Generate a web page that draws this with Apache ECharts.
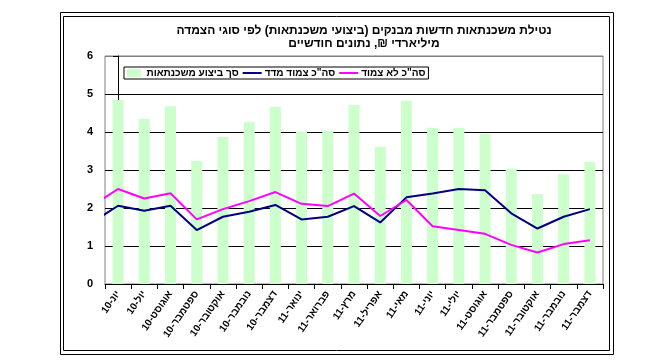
<!DOCTYPE html>
<html>
<head>
<meta charset="utf-8">
<script src="https://cdn.jsdelivr.net/npm/echarts@6/dist/echarts.min.js"></script>
<style>html,body{margin:0;padding:0;background:#fff}#c{width:663px;height:363px}</style>
</head>
<body>
<div id="c"></div>
<script>
var categories = ['יונ-10','יול-10','אוגוסט-10','ספטמבר-10','אוקטובר-10','נובמבר-10','דצמבר-10','ינואר-11','פברואר-11','מרץ-11','אפריל-11','מאי-11','יוני-11','יולי-11','אוגוסט-11','ספטמבר-11','אוקטובר-11','נובמבר-11','דצמבר-11'];
var totalMortgages = [4.84,4.34,4.68,3.24,3.87,4.26,4.66,4.01,4.03,4.71,3.61,4.82,4.11,4.11,3.95,3.03,2.37,2.89,3.21];
// linked to CPI; first value is the preceding month (May-10), only partly visible
var cpiLinkedPrev = 1.62;
var cpiLinked = [2.06,1.93,2.06,1.42,1.77,1.90,2.08,1.70,1.77,2.05,1.62,2.28,2.38,2.50,2.47,1.86,1.46,1.77,1.97];
var nonLinkedPrev = 2.06;
var nonLinked = [2.50,2.25,2.39,1.70,1.97,2.18,2.42,2.11,2.05,2.38,1.79,2.21,1.52,1.42,1.32,1.03,0.83,1.05,1.15];
var yTicks = [0,1,2,3,4,5,6];
var names = ['סך ביצוע משכנתאות','סה"כ צמוד מדד','סה"כ לא צמוד'];
var title1 = 'נטילת משכנתאות חדשות מבנקים (ביצועי משכנתאות) לפי סוגי הצמדה';
var title2 = 'מיליארדי ₪, נתונים חודשיים';

function toXY(prev, arr){
  var out = [[-1, prev]];
  arr.forEach(function(v,i){ out.push([i, v]); });
  return out;
}
var FONT = '"Liberation Sans", "DejaVu Sans", sans-serif';
var LINE_ICON = 'path://M0,0L19,0L19,2L0,2Z';
var chart = echarts.init(document.getElementById('c'), null, {renderer:'canvas'});
chart.setOption({
  animation:false,
  backgroundColor:'#fff',
  textStyle:{fontFamily:FONT},
  graphic:[
    {type:'rect', shape:{x:60.5,y:12.5,width:553,height:342}, style:{fill:null,stroke:'#000',lineWidth:1}, silent:true},
    {type:'rect', shape:{x:63.5,y:16.5,width:546,height:334}, style:{fill:null,stroke:'#000',lineWidth:1}, silent:true},
    {type:'text', x:364, y:31, style:{text:title1, textAlign:'center', textVerticalAlign:'middle', font:'bold 12px '+FONT, fill:'#000'}},
    {type:'text', x:364, y:44, style:{text:title2, textAlign:'center', textVerticalAlign:'middle', font:'bold 12px '+FONT, fill:'#000'}}
  ],
  legend:{
    left:124, top:67,
    data:[{name:names[0], icon:'path://M0,0L14,0L14,8L0,8Z'},{name:names[1], icon:LINE_ICON},{name:names[2], icon:LINE_ICON}],
    itemWidth:19, itemHeight:8, itemGap:4, symbolKeepAspect:true,
    padding:[1,3,1,3],
    borderColor:'#000', borderWidth:1,
    textStyle:{fontSize:10, fontWeight:'bold', color:'#000', fontFamily:FONT, padding:[0,0,0,-2]}
  },
  grid:{left:105, right:60, top:56, bottom:79, show:true, borderColor:'#808080', borderWidth:1},
  xAxis:[
    {type:'category', data:categories, boundaryGap:true,
     axisLine:{lineStyle:{color:'#000',width:1}},
     axisTick:{show:true, length:5, lineStyle:{color:'#000'}},
     axisLabel:{interval:0, rotate:55, margin:8, fontSize:10, fontWeight:'bold', color:'#000', fontFamily:FONT},
     splitLine:{show:false}},
    {type:'value', min:-0.5, max:18.5, show:false, splitLine:{show:false}}
  ],
  yAxis:{type:'value', min:yTicks[0], max:yTicks[yTicks.length-1], interval:1,
    axisLine:{show:true, lineStyle:{color:'#000'}},
    axisTick:{show:true, length:5, lineStyle:{color:'#000'}},
    axisLabel:{margin:12, fontSize:11, fontWeight:'bold', color:'#000', fontFamily:FONT},
    splitLine:{show:true, lineStyle:{color:['#000','#000','#000','#000','#000','#000','#808080'], width:1}}
  },
  series:[
    {name:names[0], type:'bar', data:totalMortgages, xAxisIndex:0, barWidth:11, itemStyle:{color:'#ccffcc'}},
    {name:names[1], type:'line', data:toXY(cpiLinkedPrev, cpiLinked), xAxisIndex:1, symbol:'none', clip:true,
     lineStyle:{color:'#000080', width:2}, itemStyle:{color:'#000080'}},
    {name:names[2], type:'line', data:toXY(nonLinkedPrev, nonLinked), xAxisIndex:1, symbol:'none', clip:true,
     lineStyle:{color:'#ff00ff', width:2}, itemStyle:{color:'#ff00ff'}}
  ]
});
</script>
</body>
</html>
